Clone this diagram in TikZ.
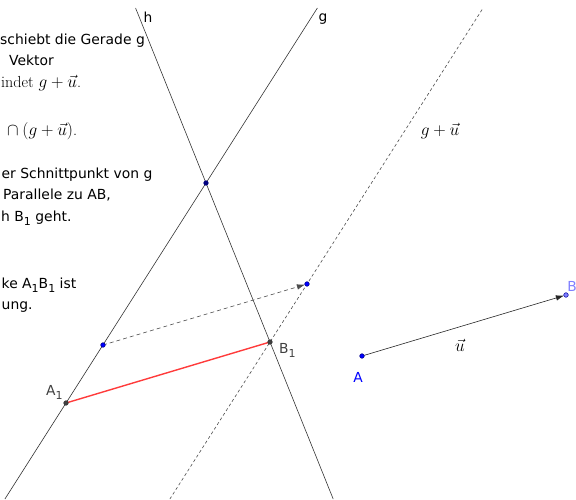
\documentclass[tikz,border=0pt]{standalone}
\usepackage{fontspec}
\usepackage{amsmath}
\usepackage{xcolor}
\usepackage{tikz}
\usetikzlibrary{arrows.meta,calc}
\newfontfamily\ggbsans{DejaVu Sans}
\newcommand{\lowsub}[1]{\raisebox{-0.32em}{\fontsize{11}{11}\selectfont #1}}
\definecolor{ptblue}{HTML}{0000FF}
\definecolor{ptdark}{HTML}{00007F}
\definecolor{ptlight}{HTML}{7F7FFF}
\definecolor{ptgray}{HTML}{404040}
\definecolor{segred}{HTML}{FF3B3B}
\tikzset{
  geoline/.style={draw=black!80, line width=0.6pt},
  shiftline/.style={draw=black!70, line width=0.6pt, dash pattern=on 3pt off 2.5pt},
  vecarrow/.style={-{Latex[length=8pt,width=5.5pt]}, draw=black!85, line width=0.6pt, shorten >=2.2pt},
  shiftarrow/.style={-{Latex[length=8pt,width=5.5pt]}, draw=black!70, line width=0.6pt,
    dash pattern=on 4pt off 3pt, shorten >=2.2pt},
  segline/.style={draw=segred, line width=1.4pt},
  gpoint/.style={circle, inner sep=0pt, minimum size=4.6pt, line width=0.5pt},
  ptlabel/.style={font=\ggbsans\fontsize{13.8}{16}\selectfont, inner sep=0pt},
  note/.style={font=\ggbsans\fontsize{13.9}{16}\selectfont, anchor=base west, inner sep=0pt},
  mathnote/.style={font=\fontsize{16}{18}\selectfont, anchor=base west, inner sep=0pt}
}

\begin{document}
\begin{tikzpicture}[x=1pt, y=-1pt]
  \useasboundingbox (0,0) rectangle (576,499);
  \clip (0,0) rectangle (576,499);

  % points
  \coordinate (A) at (362,356);
  \coordinate (B) at (566,295);
  \coordinate (A1) at (66,403);
  \coordinate (S) at (206,183);
  \coordinate (Q) at (103,345);
  \coordinate (B1) at ($(A1)+(B)-(A)$);
  \coordinate (Q1) at ($(Q)+(B)-(A)$);
  \coordinate (tl) at (0,8);
  \coordinate (tr) at (576,8);
  \coordinate (bl) at (0,499);
  \coordinate (br) at (576,499);

  % lines g, h and g+u
  \draw[geoline] (intersection of A1--S and bl--br) -- (intersection of A1--S and tl--tr);
  \draw[geoline] (intersection of S--B1 and tl--tr) -- (intersection of S--B1 and bl--br);
  \draw[shiftline] (intersection of B1--Q1 and bl--br) -- (intersection of B1--Q1 and tl--tr);

  % vectors and segment
  \draw[shiftarrow] (Q) -- (Q1);
  \draw[vecarrow] (A) -- (B);
  \draw[segline] (A1) -- (B1);

  \node[gpoint, fill=ptblue, draw=ptdark] (Adot) at (A) {};
  \node[gpoint, fill=ptlight, draw=ptblue!60!black] (Bdot) at (B) {};
  \node[gpoint, fill=ptgray, draw=black!80] (A1dot) at (A1) {};
  \node[gpoint, fill=ptgray, draw=black!80] (B1dot) at (B1) {};
  \node[gpoint, fill=ptdark, draw=ptdark] (Sdot) at (S) {};
  \node[gpoint, fill=ptblue, draw=ptdark] (Qdot) at (Q) {};
  \node[gpoint, fill=ptblue, draw=ptdark] (Q1dot) at (Q1) {};

  % labels
  \node[ptlabel, text=ptblue] (labA) at (358,377) {A};
  \node[ptlabel, text=ptlight] (labB) at (572,286) {B};
  \node[ptlabel, text=ptgray, anchor=base west] (labA1) at (46,395) {A\lowsub{1}};
  \node[ptlabel, text=ptgray, anchor=base west] (labB1) at (279,353) {B\lowsub{1}};
  \node[ptlabel] (labg) at (323,19) {g};
  \node[ptlabel] (labh) at (148,17) {h};
  \node[font=\fontsize{16}{18}\selectfont, inner sep=0pt] (labu) at (460,345) {$\vec{u}$};
  \node[font=\fontsize{16}{18}\selectfont, inner sep=0pt] (labgu) at (440,131) {$g+\vec{u}$};

  % text at the left
  \node[note] (t1) at (0,44) {schiebt die Gerade g};
  \node[note] (t2) at (9,65) {Vektor};
  \node[mathnote] (t3) at (1,87) {indet $g+\vec{u}$.};
  \node[mathnote] (t4) at (3,135) {${}\cap(g+\vec{u})$.};
  \node[note] (t5) at (1.5,178) {er Schnittpunkt von g};
  \node[note] (t6) at (3,199) {Parallele zu AB,};
  \node[note] (t7) at (1,221) {h B\lowsub{1} geht.};
  \node[note] (t8) at (1.5,288) {ke A\lowsub{1}B\lowsub{1} ist};
  \node[note] (t9) at (1.5,309) {ung.};
\end{tikzpicture}
\end{document}
